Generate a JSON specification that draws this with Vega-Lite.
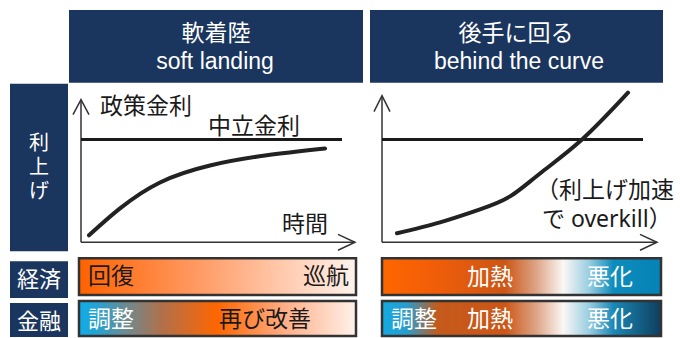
{
  "$schema": "https://vega.github.io/schema/vega-lite/v6.json",
  "width": 680,
  "height": 338,
  "autosize": {"type": "fit", "contains": "padding"},
  "padding": 0,
  "background": "white",
  "config": {"view": {"stroke": null}},
  "datasets": {
    "boxes": [
      {"part": "header", "x": 69, "x2": 363, "y": 10, "y2": 83},
      {"part": "header", "x": 370, "x2": 663, "y": 10, "y2": 83},
      {"part": "side", "x": 10, "x2": 68, "y": 84, "y2": 252},
      {"part": "side", "x": 10, "x2": 68, "y": 262, "y2": 299},
      {"part": "side", "x": 10, "x2": 68, "y": 304, "y2": 338}
    ],
    "bars": [
      {"bar": "econ_soft", "x": 79, "x2": 356, "y": 259, "y2": 296},
      {"bar": "fin_soft", "x": 79, "x2": 356, "y": 302, "y2": 337},
      {"bar": "econ_behind", "x": 382, "x2": 661, "y": 259, "y2": 296},
      {"bar": "fin_behind", "x": 382, "x2": 661, "y": 302, "y2": 337}
    ],
    "curves": [
      {"id": "soft", "i": 0, "x": 89, "y": 236},
      {"id": "soft", "i": 1, "x": 120, "y": 209},
      {"id": "soft", "i": 2, "x": 160, "y": 183},
      {"id": "soft", "i": 3, "x": 210, "y": 166},
      {"id": "soft", "i": 4, "x": 265, "y": 156},
      {"id": "soft", "i": 5, "x": 325, "y": 149},
      {"id": "behind", "i": 0, "x": 397, "y": 234},
      {"id": "behind", "i": 1, "x": 440, "y": 223},
      {"id": "behind", "i": 2, "x": 480, "y": 210},
      {"id": "behind", "i": 3, "x": 510, "y": 197},
      {"id": "behind", "i": 4, "x": 540, "y": 174},
      {"id": "behind", "i": 5, "x": 582, "y": 140},
      {"id": "behind", "i": 6, "x": 628, "y": 93}
    ],
    "neutral": [
      {"id": "soft", "i": 0, "x": 81, "y": 140},
      {"id": "soft", "i": 1, "x": 342, "y": 140},
      {"id": "behind", "i": 0, "x": 382, "y": 140},
      {"id": "behind", "i": 1, "x": 643, "y": 140}
    ],
    "guides": [
      {"id": "axisY_soft", "i": 0, "x": 81, "y": 100},
      {"id": "axisY_soft", "i": 1, "x": 81, "y": 243},
      {"id": "axisX_soft", "i": 0, "x": 81, "y": 243},
      {"id": "axisX_soft", "i": 1, "x": 355, "y": 243},
      {"id": "headY_soft", "i": 0, "x": 73, "y": 115},
      {"id": "headY_soft", "i": 1, "x": 81, "y": 100},
      {"id": "headY_soft", "i": 2, "x": 89, "y": 115},
      {"id": "headX_soft", "i": 0, "x": 338, "y": 235},
      {"id": "headX_soft", "i": 1, "x": 355, "y": 243},
      {"id": "headX_soft", "i": 2, "x": 338, "y": 251},
      {"id": "axisY_behind", "i": 0, "x": 382, "y": 96},
      {"id": "axisY_behind", "i": 1, "x": 382, "y": 243},
      {"id": "axisX_behind", "i": 0, "x": 382, "y": 243},
      {"id": "axisX_behind", "i": 1, "x": 657, "y": 243},
      {"id": "headY_behind", "i": 0, "x": 374, "y": 112},
      {"id": "headY_behind", "i": 1, "x": 382, "y": 96},
      {"id": "headY_behind", "i": 2, "x": 390, "y": 112},
      {"id": "headX_behind", "i": 0, "x": 640, "y": 235},
      {"id": "headX_behind", "i": 1, "x": 657, "y": 243},
      {"id": "headX_behind", "i": 2, "x": 640, "y": 251}
    ],
    "labels": [
      {"role": "header", "text": "軟着陸", "x": 216, "y": 34},
      {"role": "header", "text": "soft landing", "x": 215, "y": 62},
      {"role": "header", "text": "後手に回る", "x": 516, "y": 34},
      {"role": "header", "text": "behind the curve", "x": 519, "y": 62},
      {"role": "sideStack", "text": "利\n上\nげ", "x": 39, "y": 144},
      {"role": "side", "text": "経済", "x": 39, "y": 281},
      {"role": "side", "text": "金融", "x": 39, "y": 323},
      {"role": "plot", "text": "政策金利", "x": 146, "y": 107},
      {"role": "plot", "text": "中立金利", "x": 254, "y": 127},
      {"role": "plot", "text": "時間", "x": 305, "y": 226},
      {"role": "note", "text": "（利上げ加速", "x": 536, "y": 192},
      {"role": "note", "text": "で overkill）", "x": 542, "y": 221},
      {"role": "barDark", "text": "回復", "x": 111, "y": 278},
      {"role": "barDark", "text": "巡航", "x": 326, "y": 278},
      {"role": "barDark", "text": "再び改善", "x": 265, "y": 321},
      {"role": "barLight", "text": "調整", "x": 111, "y": 321},
      {"role": "barLight", "text": "加熱", "x": 490, "y": 279},
      {"role": "barLight", "text": "悪化", "x": 610, "y": 279},
      {"role": "barLight", "text": "調整", "x": 414, "y": 321},
      {"role": "barLight", "text": "加熱", "x": 490, "y": 321},
      {"role": "barLight", "text": "悪化", "x": 610, "y": 321}
    ]
  },
  "encoding": {
    "x": {"field": "x", "type": "quantitative", "scale": {"domain": [0, 680], "nice": false, "zero": false}, "axis": null},
    "y": {"field": "y", "type": "quantitative", "scale": {"domain": [0, 338], "nice": false, "zero": false, "reverse": true}, "axis": null}
  },
  "layer": [
    {
      "data": {"name": "boxes"},
      "mark": {"type": "rect", "fill": "#1b365e"},
      "encoding": {"x2": {"field": "x2"}, "y2": {"field": "y2"}}
    },
    {
      "data": {"name": "bars"},
      "transform": [{"filter": "datum.bar === 'econ_soft'"}],
      "mark": {"type": "rect", "stroke": "#333333", "strokeWidth": 2.5, "fill": {"gradient": "linear", "x1": 0, "y1": 0, "x2": 1, "y2": 0, "stops": [
        {"offset": 0, "color": "#ff6200"},
        {"offset": 0.45, "color": "#ff9d68"},
        {"offset": 1, "color": "#fff3ec"}
      ]}},
      "encoding": {"x2": {"field": "x2"}, "y2": {"field": "y2"}}
    },
    {
      "data": {"name": "bars"},
      "transform": [{"filter": "datum.bar === 'fin_soft'"}],
      "mark": {"type": "rect", "stroke": "#333333", "strokeWidth": 2.5, "fill": {"gradient": "linear", "x1": 0, "y1": 0, "x2": 1, "y2": 0, "stops": [
        {"offset": 0, "color": "#10ace6"},
        {"offset": 0.06, "color": "#22a4d4"},
        {"offset": 0.17, "color": "#6d8a90"},
        {"offset": 0.3, "color": "#b0704a"},
        {"offset": 0.5, "color": "#ff6600"},
        {"offset": 0.75, "color": "#ffb08a"},
        {"offset": 1, "color": "#fff2ea"}
      ]}},
      "encoding": {"x2": {"field": "x2"}, "y2": {"field": "y2"}}
    },
    {
      "data": {"name": "bars"},
      "transform": [{"filter": "datum.bar === 'econ_behind'"}],
      "mark": {"type": "rect", "stroke": "#333333", "strokeWidth": 2.5, "fill": {"gradient": "linear", "x1": 0, "y1": 0, "x2": 1, "y2": 0, "stops": [
        {"offset": 0, "color": "#ff6600"},
        {"offset": 0.18, "color": "#f25e08"},
        {"offset": 0.44, "color": "#cc5616"},
        {"offset": 0.55, "color": "#dca282"},
        {"offset": 0.65, "color": "#fbf7f5"},
        {"offset": 0.74, "color": "#9ccfe2"},
        {"offset": 0.83, "color": "#0c8cbc"},
        {"offset": 1, "color": "#0582b6"}
      ]}},
      "encoding": {"x2": {"field": "x2"}, "y2": {"field": "y2"}}
    },
    {
      "data": {"name": "bars"},
      "transform": [{"filter": "datum.bar === 'fin_behind'"}],
      "mark": {"type": "rect", "stroke": "#333333", "strokeWidth": 2.5, "fill": {"gradient": "linear", "x1": 0, "y1": 0, "x2": 1, "y2": 0, "stops": [
        {"offset": 0, "color": "#12aae2"},
        {"offset": 0.09, "color": "#2a9ccc"},
        {"offset": 0.2, "color": "#c45a1c"},
        {"offset": 0.44, "color": "#cc5616"},
        {"offset": 0.55, "color": "#dca282"},
        {"offset": 0.65, "color": "#fbf7f5"},
        {"offset": 0.74, "color": "#9ccfe2"},
        {"offset": 0.83, "color": "#1a88b6"},
        {"offset": 1, "color": "#0e3e5e"}
      ]}},
      "encoding": {"x2": {"field": "x2"}, "y2": {"field": "y2"}}
    },
    {
      "data": {"name": "guides"},
      "mark": {"type": "line", "stroke": "#333333", "strokeWidth": 1.5, "strokeJoin": "miter"},
      "encoding": {"detail": {"field": "id"}, "order": {"field": "i", "type": "quantitative"}}
    },
    {
      "data": {"name": "neutral"},
      "mark": {"type": "line", "stroke": "#1a1a1a", "strokeWidth": 3},
      "encoding": {"detail": {"field": "id"}, "order": {"field": "i", "type": "quantitative"}}
    },
    {
      "data": {"name": "curves"},
      "mark": {"type": "line", "stroke": "#222222", "strokeWidth": 4, "interpolate": "natural", "strokeCap": "round"},
      "encoding": {"detail": {"field": "id"}, "order": {"field": "i", "type": "quantitative"}}
    },
    {
      "data": {"name": "labels"},
      "transform": [{"filter": "datum.role === 'header'"}],
      "mark": {"type": "text", "color": "white", "fontSize": 23, "font": "Liberation Sans, Noto Sans CJK JP", "baseline": "middle", "align": "center"},
      "encoding": {"text": {"field": "text"}}
    },
    {
      "data": {"name": "labels"},
      "transform": [{"filter": "datum.role === 'side'"}],
      "mark": {"type": "text", "color": "white", "fontSize": 22, "font": "Noto Sans CJK JP", "baseline": "middle", "align": "center"},
      "encoding": {"text": {"field": "text"}}
    },
    {
      "data": {"name": "labels"},
      "transform": [{"filter": "datum.role === 'sideStack'"}],
      "mark": {"type": "text", "color": "white", "fontSize": 20, "font": "Noto Sans CJK JP", "baseline": "middle", "align": "center", "lineBreak": "\n", "lineHeight": 24},
      "encoding": {"text": {"field": "text"}}
    },
    {
      "data": {"name": "labels"},
      "transform": [{"filter": "datum.role === 'plot' || datum.role === 'barDark'"}],
      "mark": {"type": "text", "color": "#1a1a1a", "fontSize": 23, "font": "Liberation Sans, Noto Sans CJK JP", "baseline": "middle", "align": "center"},
      "encoding": {"text": {"field": "text"}}
    },
    {
      "data": {"name": "labels"},
      "transform": [{"filter": "datum.role === 'note'"}],
      "mark": {"type": "text", "color": "#1a1a1a", "fontSize": 23, "font": "Noto Sans, Noto Sans CJK JP", "baseline": "middle", "align": "left"},
      "encoding": {"text": {"field": "text"}}
    },
    {
      "data": {"name": "labels"},
      "transform": [{"filter": "datum.role === 'barLight'"}],
      "mark": {"type": "text", "color": "white", "fontSize": 23, "font": "Noto Sans CJK JP", "baseline": "middle", "align": "center"},
      "encoding": {"text": {"field": "text"}}
    }
  ]
}
